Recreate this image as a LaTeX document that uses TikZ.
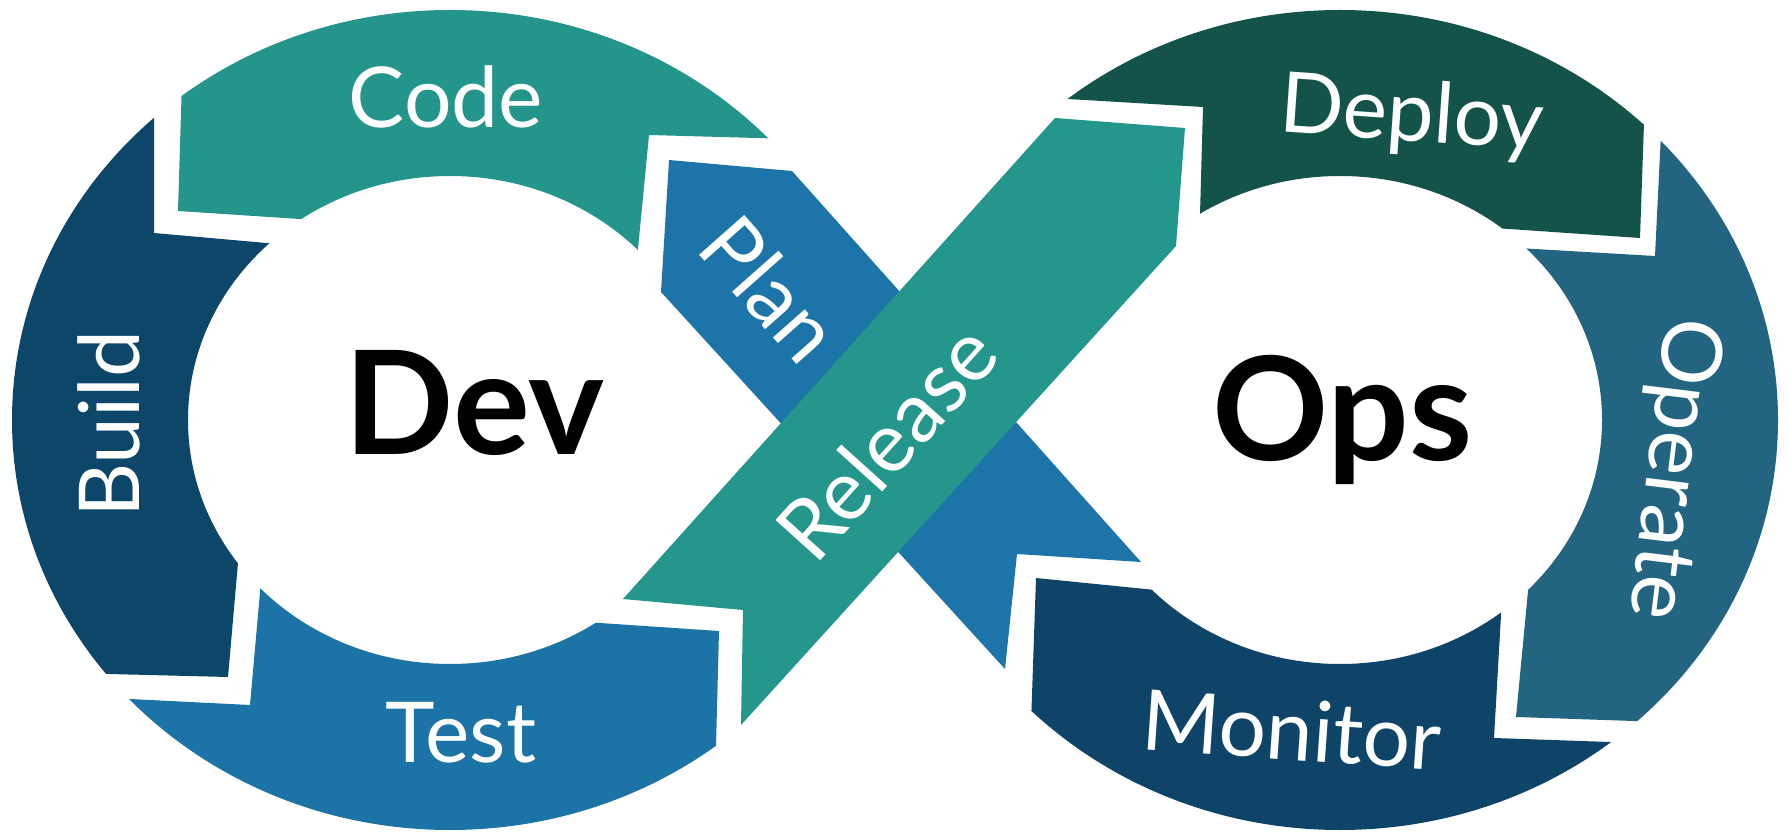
\documentclass[tikz,border=0pt]{standalone}
\usepackage{fontspec}
\newfontfamily\lato{Lato}
\definecolor{codeC}{HTML}{24958B}
\definecolor{buildC}{HTML}{0C4669}
\definecolor{testC}{HTML}{1B73A6}
\definecolor{planC}{HTML}{1C74A9}
\definecolor{releaseC}{HTML}{24968C}
\definecolor{deployC}{HTML}{13534A}
\definecolor{operateC}{HTML}{236580}
\definecolor{monitorC}{HTML}{0D4468}
\tikzset{
  lbl/.style={text=white, font=\lato\fontsize{84}{84}\selectfont, inner sep=0pt, text height=60pt, text depth=0pt},
  big/.style={text=black, font=\lato\bfseries\fontsize{144}{144}\selectfont, inner sep=0pt, text height=103pt, text depth=0pt}
}
\newcommand{\ringL}{(450,419) ellipse [x radius=438, y radius=410] (450,419) ellipse [x radius=262, y radius=244]}
\newcommand{\ringR}{(1340,419) ellipse [x radius=438, y radius=410] (1340,419) ellipse [x radius=262, y radius=244]}
\begin{document}
\begin{tikzpicture}[x=1pt,y=1pt]
\useasboundingbox (0,0) rectangle (1786,839);
\fill[white] (0,0) rectangle (1786,839);
% ---------- Dev ring ----------
\begin{scope}
  \clip (154,889) -- (154,606) -- (300,593) -- (450,419) -- (240,299) -- (228,162) -- (-50,169) -- (-50,889) -- cycle;
  \fill[buildC, even odd rule] \ringL;
\end{scope}
\begin{scope}
  \clip (186,889) -- (178,628) -- (330,618) -- (450,419) -- (635,559) -- (649,704) -- (900,697) -- (900,889) -- cycle;
  \fill[codeC, even odd rule] \ringL;
\end{scope}
\begin{scope}
  \clip (-50,149) -- (250,134) -- (262,269) -- (450,419) -- (570,218) -- (719,208) -- (712,-61) -- (-50,-61) -- cycle;
  \fill[testC, even odd rule] \ringL;
\end{scope}
% ---------- Ops ring ----------
\begin{scope}
  \clip (1000,744) -- (1203,732) -- (1199,589) -- (1340,419) -- (1480,612) -- (1640,601) -- (1650,889) -- (1000,889) -- cycle;
  \fill[deployC, even odd rule] \ringR;
\end{scope}
\begin{scope}
  \clip (1670,889) -- (1655,583) -- (1500,592) -- (1340,419) -- (1530,269) -- (1516,122) -- (1900,109) -- (1900,889) -- cycle;
  \fill[operateC, even odd rule] \ringR;
\end{scope}
\begin{scope}
  \clip (1900,87) -- (1494,101) -- (1503,259) -- (1340,419) -- (1195,245) -- (1036,261) -- (1025,-61) -- (1900,-61) -- cycle;
  \fill[monitorC, even odd rule] \ringR;
\end{scope}
% ---------- crossing bands ----------
\fill[planC] (669,679) -- (792,668) -- (1141,277) -- (1017,285) -- (1005,170) -- (661,547) -- cycle;
\fill[releaseC] (623,240) -- (743,229) -- (741,114) -- (1176,593) -- (1185,711) -- (1055,721) -- cycle;
% ---------- labels ----------
\node[lbl] (code) at (446,741) {Code};
\node[lbl, rotate=90] (build) at (109,415) {Build};
\node[lbl] (test) at (461,107) {Test};
\node[lbl, rotate=-48.5] (plan) at (770,550) {Plan};
\node[lbl, rotate=48] (release) at (887,397) {Release};
\node[lbl, rotate=-4] (deploy) at (1412,728) {Deploy};
\node[lbl, rotate=-97] (operate) at (1678,369) {Operate};
\node[lbl, rotate=-4] (monitor) at (1292,109) {Monitor};
\node[big] (dev) at (474.5,435.5) {Dev};
\node[big] (ops) at (1342.5,430) {Ops};
\end{tikzpicture}
\end{document}
